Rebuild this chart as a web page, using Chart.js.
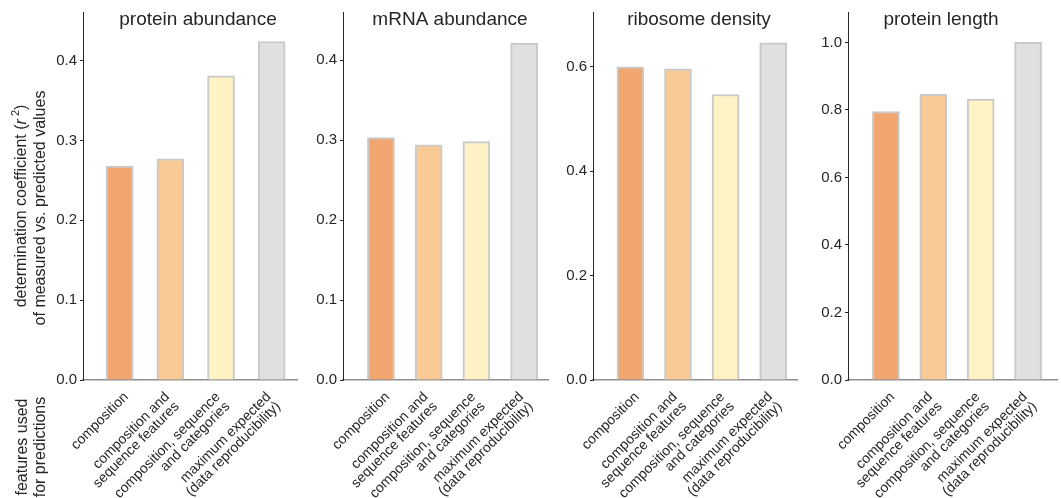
<!DOCTYPE html>
<html>
<head>
<meta charset="utf-8">
<script src="https://cdn.jsdelivr.net/npm/chart.js@4.4.0/dist/chart.umd.min.js"></script>
<style>
  html, body { margin: 0; padding: 0; background: #fff; }
  #wrap { position: relative; width: 1061px; height: 498px; }
  #wrap canvas { position: absolute; left: 0; top: 0; }
</style>
</head>
<body>
<div id="wrap">
  <canvas id="c0" width="1061" height="498"></canvas>
  <canvas id="c1" width="1061" height="498"></canvas>
  <canvas id="c2" width="1061" height="498"></canvas>
  <canvas id="c3" width="1061" height="498"></canvas>
</div>
<script>
// DATA
const featureSets = [
  ["composition"],
  ["composition and", "sequence features"],
  ["composition, sequence", "and categories"],
  ["maximum expected", "(data reproducibility)"],
];
const panelTitles = ["protein abundance", "mRNA abundance", "ribosome density", "protein length"];
const proteinAbundance = [0.268, 0.277, 0.381, 0.424];
const mrnaAbundance = [0.303, 0.294, 0.298, 0.421];
const ribosomeDensity = [0.600, 0.596, 0.547, 0.646];
const proteinLength = [0.795, 0.846, 0.832, 1.0];
const yTicksSmall = [0, 0.1, 0.2, 0.3, 0.4];
const yTicksMid = [0, 0.2, 0.4, 0.6];
const yTicksLarge = [0, 0.2, 0.4, 0.6, 0.8, 1.0];
const barColors = ["#f2a66f", "#f9c996", "#fff3c6", "#e0e0e0"];

const FONT = '"Liberation Sans", Arial, sans-serif';
const TEXT = "#262626";
const Y_AXIS_W = 40;
const X_AXIS_H = 10;
const AXIS_BOTTOM = 380;

// layout of each panel (pixels / axis range)
const panels = [
  { values: proteinAbundance, ticks: yTicksSmall, yMax: 0.461, left: 83, right: 297, xMin: -0.725, xMax: 3.5, titleX: 198 },
  { values: mrnaAbundance, ticks: yTicksSmall, yMax: 0.46, left: 343, right: 548, xMin: -0.795, xMax: 3.5, titleX: 450 },
  { values: ribosomeDensity, ticks: yTicksMid, yMax: 0.705, left: 593, right: 797, xMin: -0.786, xMax: 3.5, titleX: 699 },
  { values: proteinLength, ticks: yTicksLarge, yMax: 1.09, left: 848, right: 1057, xMin: -0.8, xMax: 3.61, titleX: 941 },
];

// rotated (45deg), right-aligned multi-line tick labels,
// placed so the rotated box's right edge sits just right of the tick
function drawFeatureLabel(ctx, lines, tickX, axisY) {
  const size = 14;
  const lh = 13.5;
  const ascent = 0.905 * size;
  const boxH = (lines.length - 1) * lh + 1.117 * size;
  const r = Math.SQRT1_2;
  ctx.save();
  ctx.font = size + "px " + FONT;
  ctx.fillStyle = TEXT;
  ctx.translate(tickX + 11.4 - r * boxH, axisY + 8.5);
  ctx.rotate(-Math.PI / 4);
  ctx.textAlign = "right";
  ctx.textBaseline = "alphabetic";
  lines.forEach((l, i) => ctx.fillText(l, 0, ascent + i * lh));
  ctx.restore();
}

// vertical label made of pieces (for the italic r and superscript)
function drawVertical(ctx, pieces, x, y) {
  ctx.save();
  ctx.translate(x, y);
  ctx.rotate(-Math.PI / 2);
  ctx.fillStyle = TEXT;
  ctx.textBaseline = "alphabetic";
  let total = 0;
  pieces.forEach((p) => {
    ctx.font = p.font;
    p.w = ctx.measureText(p.text).width;
    total += p.w;
  });
  let cx = -total / 2;
  pieces.forEach((p) => {
    ctx.font = p.font;
    ctx.fillText(p.text, cx, p.dy || 0);
    cx += p.w;
  });
  ctx.restore();
}

const extrasPlugin = {
  id: "extras",
  afterDraw(chart) {
    const ctx = chart.ctx;
    const k = chart.options.panelIndex;
    const p = panels[k];
    const xs = chart.scales.x;

    // panel title
    ctx.save();
    ctx.font = "19px " + FONT;
    ctx.fillStyle = TEXT;
    ctx.textAlign = "center";
    ctx.textBaseline = "alphabetic";
    ctx.fillText(panelTitles[k], p.titleX, 25);
    ctx.restore();

    // x tick labels
    featureSets.forEach((lines, i) => {
      drawFeatureLabel(ctx, lines, xs.getPixelForValue(i), AXIS_BOTTOM);
    });

    if (k === 0) {
      const f = "16px " + FONT;
      drawVertical(ctx, [
        { text: "determination coefficient (", font: f },
        { text: "r", font: "italic 16px " + FONT },
        { text: " 2", font: "11px " + FONT, dy: -7 },
        { text: ")", font: f },
      ], 26, 206);
      drawVertical(ctx, [{ text: "of measured vs. predicted values", font: f }], 45, 208);
      drawVertical(ctx, [{ text: "features used", font: f }], 27, 447);
      drawVertical(ctx, [{ text: "for predictions", font: f }], 45, 447);
    }
  },
};

panels.forEach((p, k) => {
  new Chart(document.getElementById("c" + k), {
    type: "bar",
    data: {
      datasets: [
        {
          data: p.values.map((v, i) => ({ x: i, y: v })),
          backgroundColor: barColors,
          borderColor: "#c9c9c9",
          borderWidth: 2,
          borderSkipped: "start",
          barThickness: 27,
        },
      ],
    },
    options: {
      panelIndex: k,
      responsive: false,
      animation: false,
      layout: {
        padding: {
          left: p.left - Y_AXIS_W,
          right: 1061 - p.right,
          top: 12,
          bottom: 498 - AXIS_BOTTOM - X_AXIS_H,
        },
      },
      plugins: { legend: { display: false }, tooltip: { enabled: false } },
      scales: {
        x: {
          type: "linear",
          offset: false,
          min: p.xMin,
          max: p.xMax,
          z: 1,
          afterBuildTicks: (s) => {
            s.ticks = featureSets.map((_, i) => ({ value: i }));
          },
          afterFit: (s) => {
            s.height = X_AXIS_H;
          },
          ticks: { display: false },
          grid: { display: false, offset: false },
          border: { color: "#8e8e8e", width: 1.5 },
        },
        y: {
          min: 0,
          max: p.yMax,
          afterBuildTicks: (s) => {
            s.ticks = p.ticks.map((v) => ({ value: v }));
          },
          afterFit: (s) => {
            s.width = Y_AXIS_W;
          },
          ticks: {
            color: TEXT,
            font: { family: FONT, size: 15 },
            padding: 3,
            callback: (v) => v.toFixed(1),
          },
          grid: { drawOnChartArea: false, tickLength: 3, color: TEXT },
          border: { color: TEXT, width: 1 },
        },
      },
    },
    plugins: [extrasPlugin],
  });
});
</script>
</body>
</html>
